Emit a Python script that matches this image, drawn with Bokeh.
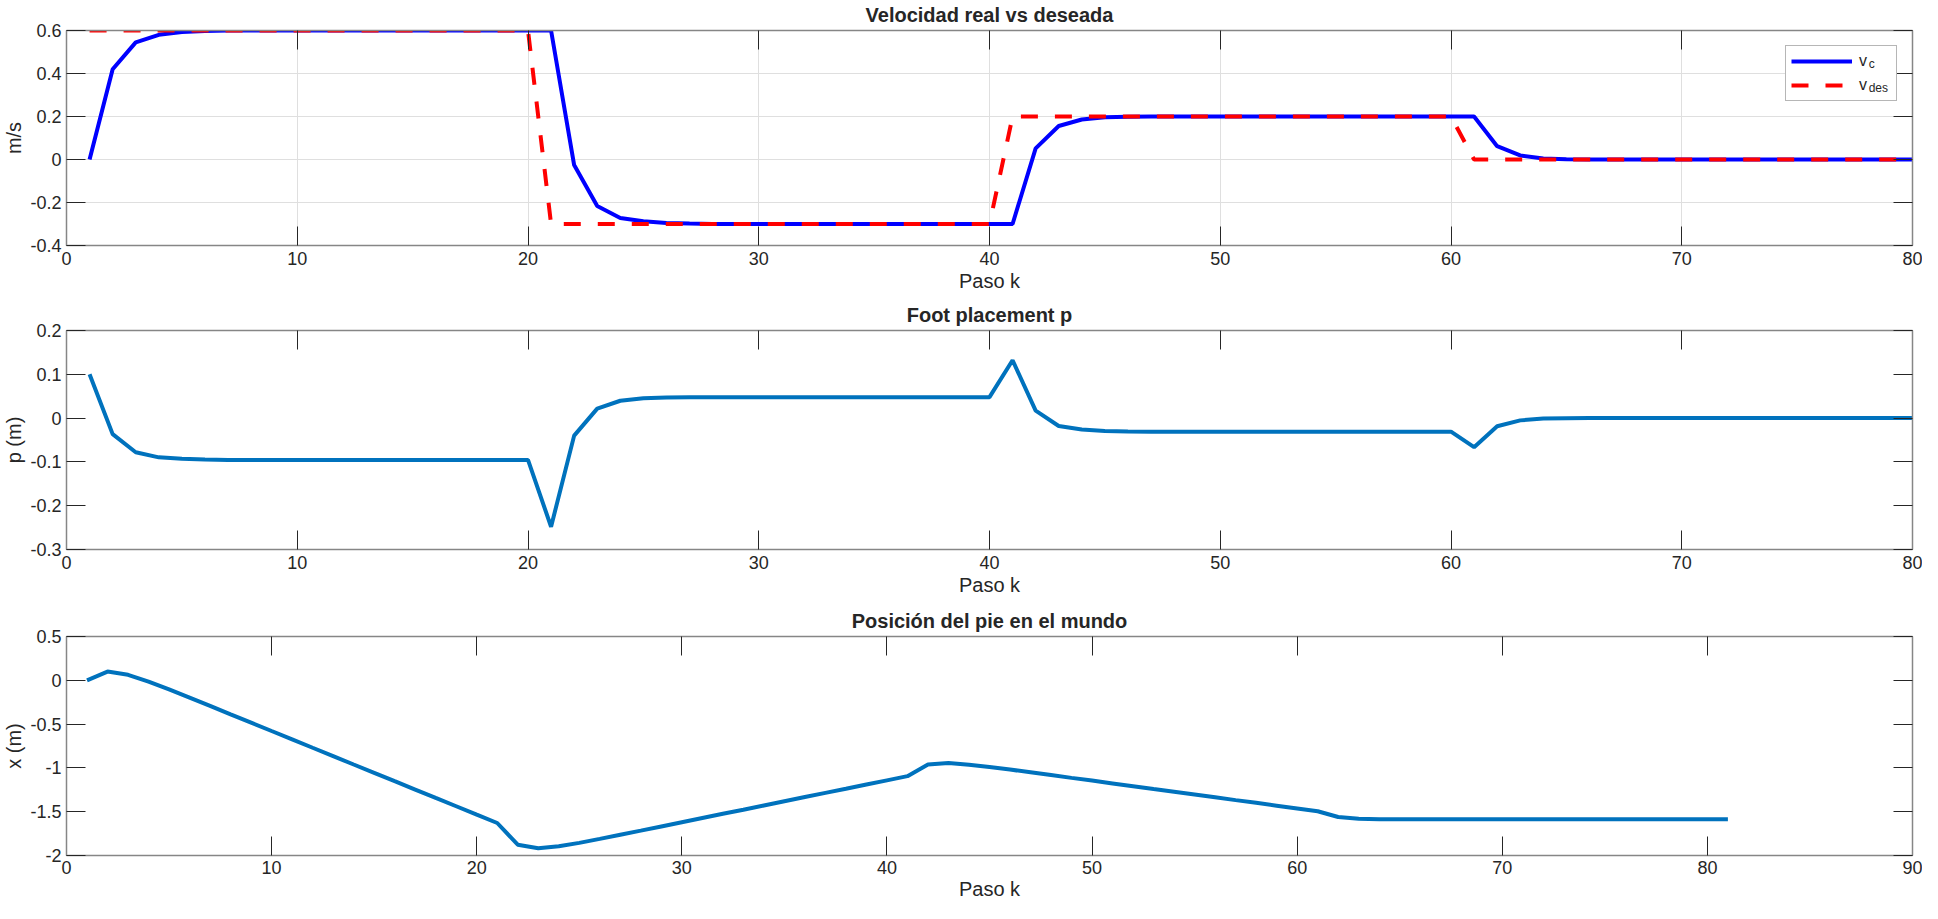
from bokeh.plotting import figure
from bokeh.layouts import column
from bokeh.models import (LinearAxis, FixedTicker, Legend, LegendItem, Range1d,
                          CustomLabelingPolicy)
from bokeh.embed import file_html
from bokeh.resources import INLINE

# ---------------- data ----------------
k_v = list(range(1, 81))
v_c = [0.0, 0.42, 0.545, 0.58, 0.593, 0.598,
       0.6, 0.6, 0.6, 0.6, 0.6, 0.6, 0.6, 0.6, 0.6, 0.6, 0.6, 0.6, 0.6, 0.6, 0.6,
       -0.026, -0.216, -0.272, -0.287, -0.295, -0.298,
       -0.3, -0.3, -0.3, -0.3, -0.3, -0.3, -0.3, -0.3, -0.3, -0.3, -0.3, -0.3, -0.3, -0.3,
       0.052, 0.156, 0.186, 0.197, 0.199,
       0.2, 0.2, 0.2, 0.2, 0.2, 0.2, 0.2, 0.2, 0.2, 0.2, 0.2, 0.2, 0.2, 0.2, 0.2,
       0.062, 0.019, 0.0045, 0.001,
       0.0, 0.0, 0.0, 0.0, 0.0, 0.0, 0.0, 0.0, 0.0, 0.0, 0.0, 0.0, 0.0, 0.0, 0.0]
v_des = [0.6, 0.6, 0.6, 0.6, 0.6, 0.6, 0.6, 0.6, 0.6, 0.6,
         0.6, 0.6, 0.6, 0.6, 0.6, 0.6, 0.6, 0.6, 0.6, 0.6,
         -0.3, -0.3, -0.3, -0.3, -0.3, -0.3, -0.3, -0.3, -0.3, -0.3,
         -0.3, -0.3, -0.3, -0.3, -0.3, -0.3, -0.3, -0.3, -0.3, -0.3,
         0.2, 0.2, 0.2, 0.2, 0.2, 0.2, 0.2, 0.2, 0.2, 0.2,
         0.2, 0.2, 0.2, 0.2, 0.2, 0.2, 0.2, 0.2, 0.2, 0.2,
         0.0, 0.0, 0.0, 0.0, 0.0, 0.0, 0.0, 0.0, 0.0, 0.0,
         0.0, 0.0, 0.0, 0.0, 0.0, 0.0, 0.0, 0.0, 0.0, 0.0]

k_p = list(range(1, 81))
p_vals = [0.1, -0.0366, -0.078, -0.0896, -0.093, -0.0948,
          -0.0955, -0.0955, -0.0955, -0.0955, -0.0955, -0.0955, -0.0955,
          -0.0955, -0.0955, -0.0955, -0.0955, -0.0955, -0.0955, -0.0955,
          -0.248, -0.040, 0.0216, 0.0396, 0.0455, 0.047,
          0.0478, 0.0478, 0.0478, 0.0478, 0.0478, 0.0478, 0.0478,
          0.0478, 0.0478, 0.0478, 0.0478, 0.0478, 0.0478, 0.0478,
          0.132, 0.017, -0.018, -0.026, -0.0295, -0.0305,
          -0.031, -0.031, -0.031, -0.031, -0.031, -0.031, -0.031,
          -0.031, -0.031, -0.031, -0.031, -0.031, -0.031, -0.031,
          -0.0664, -0.0187, -0.0052, -0.001, -0.0002,
          0.0, 0.0, 0.0, 0.0, 0.0, 0.0, 0.0, 0.0, 0.0, 0.0, 0.0, 0.0, 0.0, 0.0, 0.0]

k_x = list(range(1, 82))
x_pos = [0.0, 0.1, 0.063, -0.015, -0.104, -0.197, -0.292, -0.388, -0.483, -0.579,
         -0.674, -0.770, -0.865, -0.961, -1.056, -1.152, -1.247, -1.343, -1.438, -1.534,
         -1.629, -1.877, -1.917, -1.895, -1.856, -1.810, -1.763, -1.716, -1.668, -1.620,
         -1.572, -1.524, -1.477, -1.429, -1.381, -1.333, -1.285, -1.238, -1.190, -1.142,
         -1.094, -0.962, -0.945, -0.963, -0.989, -1.019, -1.050, -1.082, -1.114, -1.145,
         -1.177, -1.209, -1.241, -1.272, -1.304, -1.336, -1.368, -1.399, -1.431, -1.463,
         -1.495, -1.561, -1.580, -1.585, -1.586, -1.587, -1.587, -1.587, -1.587, -1.587,
         -1.587, -1.587, -1.587, -1.587, -1.587, -1.587, -1.587, -1.587, -1.587, -1.587,
         -1.587]

titles = ["Velocidad real vs deseada", "Foot placement p", "Posición del pie en el mundo"]
x_label = "Paso k"
y_labels = ["m/s", "p (m)", "x (m)"]
legend_labels = ["v", "v"]
legend_subs = ["c", "des"]

x_ticks_80 = [0, 10, 20, 30, 40, 50, 60, 70, 80]
x_tick_labels_80 = ["0", "10", "20", "30", "40", "50", "60", "70", "80"]
x_ticks_90 = [0, 10, 20, 30, 40, 50, 60, 70, 80, 90]
x_tick_labels_90 = ["0", "10", "20", "30", "40", "50", "60", "70", "80", "90"]
y_ticks_1 = [-0.4, -0.2, 0, 0.2, 0.4, 0.6]
y_tick_labels_1 = ["-0.4", "-0.2", "0", "0.2", "0.4", "0.6"]
y_ticks_2 = [-0.3, -0.2, -0.1, 0, 0.1, 0.2]
y_tick_labels_2 = ["-0.3", "-0.2", "-0.1", "0", "0.1", "0.2"]
y_ticks_3 = [-2, -1.5, -1, -0.5, 0, 0.5]
y_tick_labels_3 = ["-2", "-1.5", "-1", "-0.5", "0", "0.5"]

# ---------------- style ----------------
FONT = "Liberation Sans"
TXT = "#262626"
BOX = "#868686"
MBLUE = "#0072BD"
W = 1922
ML, MR = 60, 10

NO_LABELS = """
const keep = [];
for (const i of indices) keep.push(i);
for (const i of keep) indices.unset(i);
return indices;
"""


def style_axis(ax, ticks, labels=None, show=True):
    ax.ticker = FixedTicker(ticks=ticks)
    ax.axis_line_color = BOX
    ax.axis_line_width = 1.5
    ax.major_tick_line_color = TXT
    ax.major_tick_line_width = 1
    ax.major_tick_in = 19
    ax.major_tick_out = 0
    ax.minor_tick_in = 0
    ax.minor_tick_out = 0
    ax.minor_tick_line_color = None
    if show:
        ax.major_label_text_font = FONT
        ax.major_label_text_font_size = "18px"
        ax.major_label_text_color = TXT
        ax.major_label_overrides = {t: s for t, s in zip(ticks, labels)}
        ax.axis_label_text_font = FONT
        ax.axis_label_text_font_size = "20px"
        ax.axis_label_text_font_style = "normal"
        ax.axis_label_text_color = TXT
    else:
        ax.major_label_text_font_size = "1px"
        ax.major_label_standoff = 0
        ax.major_label_policy = CustomLabelingPolicy(code=NO_LABELS)
        ax.axis_label = None


def make_fig(title, top, frame_h, bottom, xr, yr, xt, xtl, yt, ytl, ylab, grid,
             x_standoff, x_label_standoff):
    p = figure(width=W, height=top + frame_h + bottom,
               x_range=Range1d(*xr), y_range=Range1d(*yr),
               output_backend="svg", toolbar_location=None,
               min_border_left=ML, min_border_right=MR,
               min_border_top=top, min_border_bottom=bottom)
    p.title.text = title
    p.title.align = "center"
    p.title.text_font = FONT
    p.title.text_font_size = "20px"
    p.title.text_font_style = "bold"
    p.title.text_color = TXT
    p.title.standoff = 2
    p.outline_line_color = None
    p.background_fill_color = "white"
    p.border_fill_color = "white"

    style_axis(p.xaxis[0], xt, xtl)
    p.xaxis[0].axis_label = x_label
    p.xaxis[0].major_label_standoff = x_standoff
    p.xaxis[0].axis_label_standoff = x_label_standoff
    style_axis(p.yaxis[0], yt, ytl)
    p.yaxis[0].axis_label = ylab
    p.yaxis[0].major_label_standoff = 5
    p.yaxis[0].axis_label_standoff = 2

    ax_top = LinearAxis()
    style_axis(ax_top, xt, show=False)
    p.add_layout(ax_top, "above")
    ax_right = LinearAxis()
    style_axis(ax_right, yt, show=False)
    p.add_layout(ax_right, "right")

    if grid:
        p.xgrid.ticker = FixedTicker(ticks=xt)
        p.ygrid.ticker = FixedTicker(ticks=yt)
        p.xgrid.grid_line_color = "#dfdfdf"
        p.ygrid.grid_line_color = "#dfdfdf"
    else:
        p.xgrid.grid_line_color = None
        p.ygrid.grid_line_color = None
    return p


# ---- panel 1 ----
p1 = make_fig(titles[0], 23, 222, 55, (0, 80), (-0.4, 0.6), x_ticks_80, x_tick_labels_80,
              y_ticks_1, y_tick_labels_1, y_labels[0], True, 6, 2)
r_vc = p1.line(k_v, v_c, line_color="#0000FF", line_width=4)
r_vd = p1.line(k_v, v_des, line_color="#FF0000", line_width=4, line_dash="17 17")

leg = Legend(items=[LegendItem(label=legend_labels[0], renderers=[r_vc]),
                    LegendItem(label=legend_labels[1], renderers=[r_vd])],
             location="top_right", margin=15, padding=5, spacing=4,
             glyph_width=61, glyph_height=20, label_height=20,
             label_width=32, label_standoff=7,
             label_text_font=FONT, label_text_font_size="16px",
             label_text_color=TXT, border_line_color="#6e6e6e", border_line_width=1.2,
             background_fill_color="white", background_fill_alpha=1.0)
p1.add_layout(leg, "center")

# subscripts of the legend labels: a second, transparent legend anchored to the same
# corner, so that its texts sit just right of and slightly below each "v"
r_none = p1.line([], [], line_alpha=0)
leg_sub = Legend(items=[LegendItem(label=s, renderers=[r_none]) for s in legend_subs],
                 location="top_right", margin=24, padding=0, spacing=4,
                 glyph_width=1, glyph_height=20, label_height=20,
                 label_width=19, label_standoff=0,
                 label_text_font=FONT, label_text_font_size="12px",
                 label_text_color=TXT, border_line_color=None,
                 background_fill_alpha=0.0)
p1.add_layout(leg_sub, "center")

# ---- panel 2 ----
p2 = make_fig(titles[1], 27, 222, 57, (0, 80), (-0.3, 0.2), x_ticks_80, x_tick_labels_80,
              y_ticks_2, y_tick_labels_2, y_labels[1], False, 6, 2)
p2.line(k_p, p_vals, line_color=MBLUE, line_width=4)

# ---- panel 3 ----
p3 = make_fig(titles[2], 29, 220, 48, (0, 90), (-2, 0.5), x_ticks_90, x_tick_labels_90,
              y_ticks_3, y_tick_labels_3, y_labels[2], False, 5, 1)
p3.line(k_x, x_pos, line_color=MBLUE, line_width=4)

layout = column(p1, p2, p3, spacing=0)
open("out.html", "w").write(file_html(layout, INLINE))
